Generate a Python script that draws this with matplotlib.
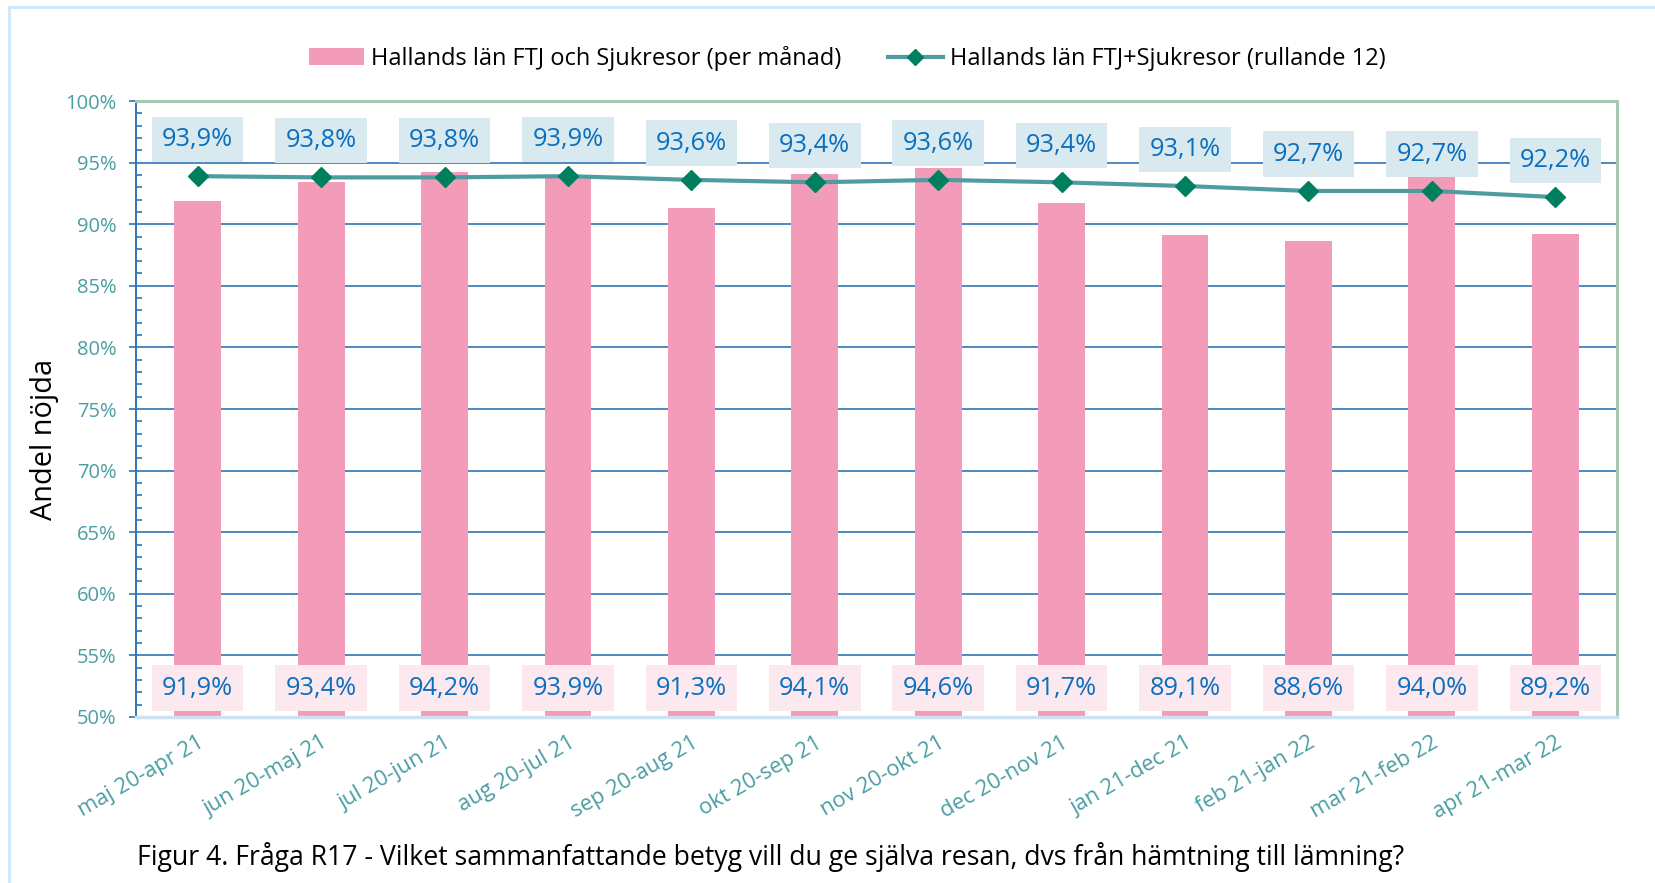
import matplotlib.pyplot as plt
from matplotlib.lines import Line2D
from matplotlib.patches import Patch
from matplotlib.ticker import MultipleLocator

plt.rcParams['font.family'] = ['Open Sans', 'DejaVu Sans']

categories = ['maj 20-apr 21', 'jun 20-maj 21', 'jul 20-jun 21', 'aug 20-jul 21',
              'sep 20-aug 21', 'okt 20-sep 21', 'nov 20-okt 21', 'dec 20-nov 21',
              'jan 21-dec 21', 'feb 21-jan 22', 'mar 21-feb 22', 'apr 21-mar 22']
monthly = [91.9, 93.4, 94.2, 93.9, 91.3, 94.1, 94.6, 91.7, 89.1, 88.6, 94.0, 89.2]
rolling = [93.9, 93.8, 93.8, 93.9, 93.6, 93.4, 93.6, 93.4, 93.1, 92.7, 92.7, 92.2]
bar_name = 'Hallands län FTJ och Sjukresor (per månad)'
line_name = 'Hallands län FTJ+Sjukresor (rullande 12)'
caption = ('Figur 4. Fråga R17 - Vilket sammanfattande betyg vill du ge själva resan, '
           'dvs från hämtning till lämning?')

pink = '#f29cb9'
teal_line = '#4e9ca0'
marker_green = '#007f5f'
grid_blue = '#2e75b6'
label_blue = '#0b6fbf'
tick_teal = '#4a9ea3'

fig = plt.figure(figsize=(16.55, 8.83), dpi=100)
ax = fig.add_axes([0.0822, 0.188, 0.8948, 0.6976])

x = list(range(len(categories)))
ax.bar(x, [v - 50 for v in monthly], bottom=50, width=0.38, color=pink, zorder=2)
ax.plot(x, rolling, color=teal_line, lw=3, marker='D', markersize=10,
        markerfacecolor=marker_green, markeredgecolor=marker_green, zorder=4)

# etiketter
for i, v in enumerate(rolling):
    ax.annotate(f'{v:.1f}%'.replace('.', ','), (i, v), xytext=(0, 26.5),
                textcoords='offset points', ha='center', va='center',
                fontsize=18.3, color=label_blue, zorder=5,
                bbox=dict(boxstyle='square,pad=0.4', fc='#d8eaf0', ec='none'))
for i, v in enumerate(monthly):
    ax.text(i, 52.35, f'{v:.1f}%'.replace('.', ','), ha='center', va='center',
            fontsize=18.3, color=label_blue, zorder=5,
            bbox=dict(boxstyle='square,pad=0.4', fc='#fce8ef', ec='none'))

ax.set_xlim(-0.5, len(categories) - 0.5)
ax.set_ylim(50, 100)
ax.yaxis.set_major_locator(MultipleLocator(5))
ax.yaxis.set_minor_locator(MultipleLocator(1))
ax.set_yticks(range(50, 101, 5))
ax.set_yticklabels([f'{t}%' for t in range(50, 101, 5)])
ax.tick_params(axis='y', which='major', direction='out', length=5, width=1.2,
               color=grid_blue, labelcolor=tick_teal, labelsize=14.5, pad=9)
ax.tick_params(axis='y', which='minor', direction='in', length=4.5, width=1.2,
               color=grid_blue)
ax.set_xticks(x)
ax.set_xticklabels(categories, rotation=30, ha='right', va='top',
                   rotation_mode='anchor', color=tick_teal, fontsize=15.8)
ax.tick_params(axis='x', length=0, pad=11)

ax.set_axisbelow(True)
ax.grid(axis='y', which='major', color=grid_blue, lw=1.2)
ax.spines['left'].set_color(grid_blue)
ax.spines['left'].set_linewidth(1.4)
ax.spines['bottom'].set_color('#cde4f0')
ax.spines['bottom'].set_linewidth(2.5)
for s in ['top', 'right']:
    ax.spines[s].set_color('#a9c8b4')
    ax.spines[s].set_linewidth(2.2)

ax.set_ylabel('Andel nöjda', fontsize=20.8, color='black')
ax.yaxis.set_label_coords(-0.052, 0.451)

handles = [Patch(facecolor=pink, edgecolor='none', label=bar_name),
           Line2D([0], [0], color=teal_line, lw=3, marker='D', markersize=8,
                  markerfacecolor=marker_green, markeredgecolor=marker_green,
                  label=line_name)]
fig.legend(handles=handles, loc='center', bbox_to_anchor=(0.512, 0.934), ncol=2,
           frameon=False, fontsize=17, handlelength=2.3, handleheight=0.7,
           columnspacing=2.0, handletextpad=0.3)

fig.text(137 / 1655, 1 - 857 / 883, caption, fontsize=19.2, color='black',
         ha='left', va='center')

# ram runt figuren
fig.add_artist(Line2D([9 / 1655, 1], [1 - 7 / 883, 1 - 7 / 883],
                      transform=fig.transFigure, color='#cce7fb', lw=2))
fig.add_artist(Line2D([9 / 1655, 9 / 1655], [0, 1 - 7 / 883],
                      transform=fig.transFigure, color='#cce7fb', lw=2))

fig.savefig('out.png', dpi=100)
